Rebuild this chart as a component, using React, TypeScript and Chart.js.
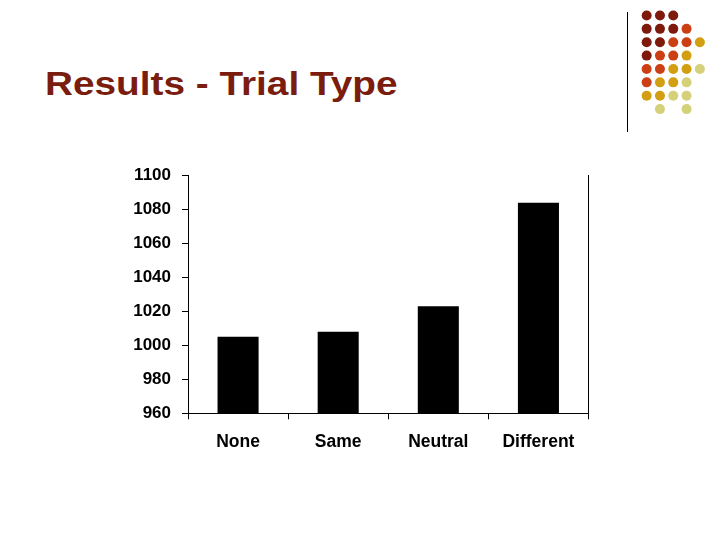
import { useEffect, useRef } from 'react';
import { Chart, registerables } from 'chart.js';

Chart.register(...registerables);

// slide title
const titleText = 'Results - Trial Type';

// bar chart data
const categories = ['None', 'Same', 'Neutral', 'Different'];
const meanRT = [1005, 1008, 1023, 1084];
const yMin = 960;
const yMax = 1100;
const yStep = 20;

// decorative dot grid, [column, row] per colour tone
const darkDots = [[0, 0], [1, 0], [2, 0], [0, 1], [1, 1], [2, 1], [0, 2], [1, 2], [0, 3]];
const orangeDots = [[3, 1], [2, 2], [3, 2], [1, 3], [2, 3], [0, 4], [1, 4], [0, 5]];
const goldDots = [[4, 2], [3, 3], [2, 4], [3, 4], [1, 5], [2, 5], [0, 6], [1, 6]];
const paleDots = [[4, 4], [3, 5], [2, 6], [3, 6], [1, 7], [3, 7]];

const FONT = '"Liberation Sans", Arial, sans-serif';

function BarChart() {
  const canvasRef = useRef<HTMLCanvasElement | null>(null);

  useEffect(() => {
    const ctx = canvasRef.current!.getContext('2d')!;
    const chart = new Chart(ctx, {
      type: 'bar',
      data: {
        labels: categories,
        datasets: [
          {
            data: meanRT,
            backgroundColor: '#000000',
            borderWidth: 0,
            barPercentage: 0.41,
            categoryPercentage: 1,
          },
        ],
      },
      options: {
        responsive: true,
        maintainAspectRatio: false,
        animation: false,
        layout: { padding: { left: 0, top: 15.5, right: 11.5, bottom: 0 } },
        plugins: { legend: { display: false }, tooltip: { enabled: false } },
        scales: {
          x: {
            grid: {
              offset: true,
              drawOnChartArea: false,
              drawTicks: true,
              tickLength: 6,
              color: '#000000',
            },
            border: { display: true, color: '#000000', width: 1 },
            ticks: {
              color: '#000000',
              padding: 12,
              font: { family: FONT, size: 17.5, weight: 'bold' },
              maxRotation: 0,
            },
            afterFit: (s: any) => {
              s.height = 46.7;
            },
          },
          y: {
            min: yMin,
            max: yMax,
            grid: {
              drawOnChartArea: false,
              drawTicks: true,
              tickLength: 6,
              color: '#000000',
            },
            border: { display: true, color: '#000000', width: 1 },
            ticks: {
              stepSize: yStep,
              color: '#000000',
              padding: 11,
              font: { family: FONT, size: 17, weight: 'bold' },
              callback: (v: any) => String(v),
            },
            afterFit: (s: any) => {
              s.width = 88;
              // let layout padding alone decide the plot top
              s.paddingTop = 0;
              s.paddingBottom = 0;
            },
          },
          yRight: {
            position: 'right',
            min: yMin,
            max: yMax,
            grid: { display: false },
            ticks: { display: false },
            border: { display: true, color: '#000000', width: 1 },
            afterFit: (s: any) => {
              s.width = 0;
              s.paddingTop = 0;
              s.paddingBottom = 0;
            },
          },
        },
      },
    });
    return () => chart.destroy();
  }, []);

  return (
    <div style={{ position: 'absolute', left: 100, top: 160, width: 500, height: 300 }}>
      <canvas ref={canvasRef} />
    </div>
  );
}

function DotGrid() {
  const canvasRef = useRef<HTMLCanvasElement | null>(null);

  useEffect(() => {
    const ctx = canvasRef.current!.getContext('2d')!;
    const toPts = (arr: number[][]) => arr.map(([c, r]) => ({ x: c, y: r }));
    const tones = [
      { pts: darkDots, color: '#7d1a0c' },
      { pts: orangeDots, color: '#cc3f14' },
      { pts: goldDots, color: '#d29e12' },
      { pts: paleDots, color: '#d5d07a' },
    ];
    const chart = new Chart(ctx, {
      type: 'scatter',
      data: {
        datasets: tones.map((t) => ({
          data: toPts(t.pts),
          backgroundColor: t.color,
          borderWidth: 0,
          pointRadius: 5,
        })),
      },
      options: {
        responsive: true,
        maintainAspectRatio: false,
        animation: false,
        layout: { padding: { left: 10, top: 8.8, right: 13.5, bottom: 9.2 } },
        plugins: { legend: { display: false }, tooltip: { enabled: false } },
        scales: {
          x: { display: false, min: -0.5, max: 4.5 },
          y: { display: false, min: -0.5, max: 7.5, reverse: true },
        },
      },
    });
    return () => chart.destroy();
  }, []);

  return (
    <div style={{ position: 'absolute', left: 630, top: 0, width: 90, height: 125 }}>
      <canvas ref={canvasRef} />
    </div>
  );
}

export default function App() {
  return (
    <div
      style={{
        position: 'absolute',
        left: 0,
        top: 0,
        width: 720,
        height: 540,
        background: '#ffffff',
        overflow: 'hidden',
      }}
    >
      <div
        style={{
          position: 'absolute',
          left: 44.5,
          top: 66.2,
          fontFamily: FONT,
          fontSize: 34,
          fontWeight: 'bold',
          lineHeight: '34px',
          color: '#7a1c0e',
          whiteSpace: 'nowrap',
          transform: 'scaleX(1.14)',
          transformOrigin: 'left top',
        }}
      >
        {titleText}
      </div>
      <div
        style={{
          position: 'absolute',
          left: 626.7,
          top: 12,
          width: 1.3,
          height: 120,
          background: '#000000',
        }}
      />
      <DotGrid />
      <BarChart />
    </div>
  );
}
